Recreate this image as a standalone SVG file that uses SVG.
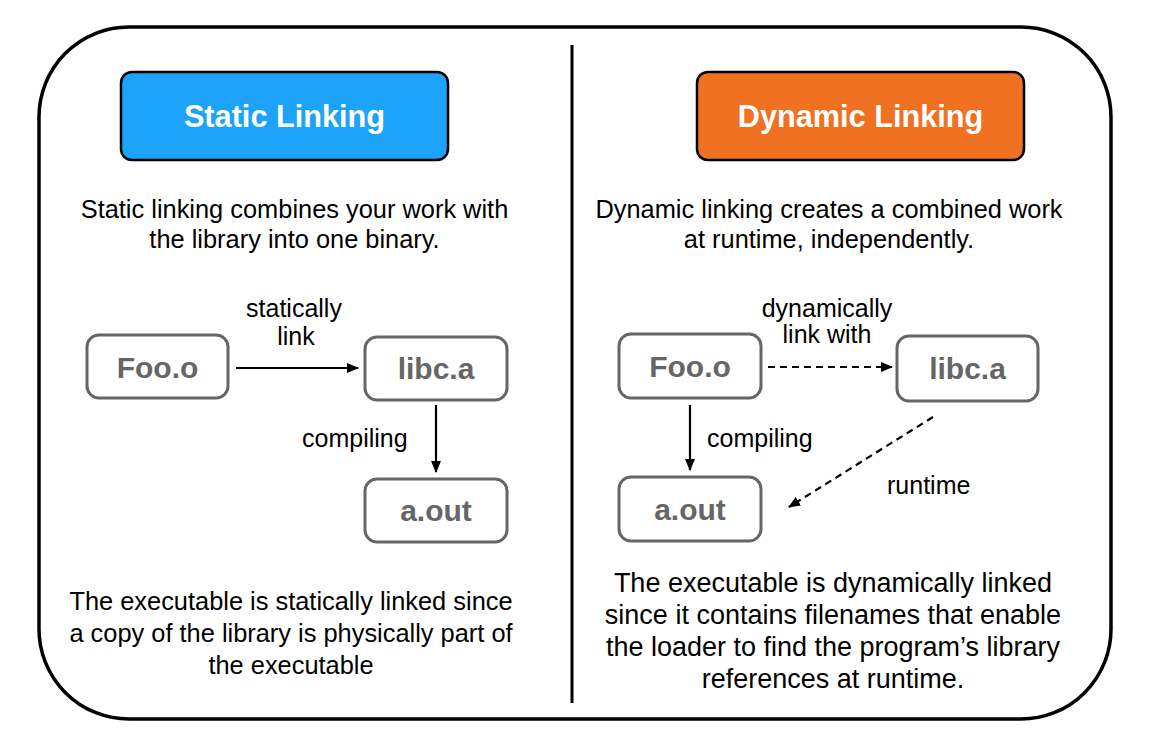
<svg xmlns="http://www.w3.org/2000/svg" width="1152" height="756" viewBox="0 0 1152 756">
<defs>
<style>
.frame{fill:#fff;stroke:#000;stroke-width:3.5}
.title{fill:#fff;font-family:"Liberation Sans",Arial,sans-serif;font-weight:bold;font-size:30.7px;text-anchor:middle}
.hdr{stroke:#000;stroke-width:2.5}
.node rect{fill:#fff;stroke:#666;stroke-width:3}
.node text{fill:#666;font-family:"Liberation Sans",Arial,sans-serif;font-weight:bold;font-size:30px;text-anchor:middle}
.txt{fill:#000;font-family:"Liberation Sans",Arial,sans-serif;font-size:25.4px;text-anchor:middle}
.big{font-size:27px}
.lbl{fill:#000;font-family:"Liberation Sans",Arial,sans-serif;font-size:25px}
.edge{fill:none;stroke:#000;stroke-width:2.2}
.dash{stroke-dasharray:7 5}
</style>
<marker id="arr" viewBox="0 0 12 10" refX="11" refY="5" markerWidth="12" markerHeight="10" markerUnits="userSpaceOnUse" orient="auto">
<path d="M0,0 L12,5 L0,10 Z" fill="#000"/>
</marker>
</defs>
<rect width="1152" height="756" fill="#fff"/>
<rect class="frame" x="39" y="27" width="1072" height="692" rx="90" ry="90"/>
<line x1="572" y1="45" x2="572" y2="703" stroke="#000" stroke-width="3"/>

<g id="static-title">
<rect class="hdr" x="121" y="72" width="327" height="88" rx="11" fill="#1DA3FB"/>
<text class="title" x="284.5" y="127">Static Linking</text>
</g>
<g id="dynamic-title">
<rect class="hdr" x="697" y="72" width="327" height="88" rx="11" fill="#F07122"/>
<text class="title" x="860.5" y="127">Dynamic Linking</text>
</g>

<g id="static-desc">
<text class="txt" x="294.5" y="218">Static linking combines your work with</text>
<text class="txt" x="294.5" y="248">the library into one binary.</text>
</g>
<g id="dynamic-desc">
<text class="txt" x="829" y="218">Dynamic linking creates a combined work</text>
<text class="txt" x="829" y="248">at runtime, independently.</text>
</g>

<g id="s-foo" class="node">
<rect x="87" y="335" width="141" height="63" rx="12"/>
<text x="157.5" y="378">Foo.o</text>
</g>
<g id="s-libc" class="node">
<rect x="365" y="337" width="142" height="63" rx="12"/>
<text x="436" y="379">libc.a</text>
</g>
<g id="s-aout" class="node">
<rect x="365" y="479" width="142" height="63" rx="12"/>
<text x="436" y="521">a.out</text>
</g>

<g id="d-foo" class="node">
<rect x="619" y="334" width="142" height="64" rx="12"/>
<text x="690" y="377">Foo.o</text>
</g>
<g id="d-libc" class="node">
<rect x="897" y="336" width="141" height="65" rx="12"/>
<text x="967.5" y="379">libc.a</text>
</g>
<g id="d-aout" class="node">
<rect x="619" y="477" width="142" height="64" rx="12"/>
<text x="690" y="520">a.out</text>
</g>

<g id="connectors">
<line class="edge" x1="236" y1="368" x2="358" y2="368" marker-end="url(#arr)"/>
<line class="edge" x1="436" y1="405" x2="436" y2="472" marker-end="url(#arr)"/>
<line class="edge dash" x1="768" y1="367" x2="892" y2="367" marker-end="url(#arr)"/>
<line class="edge" x1="690" y1="405" x2="690" y2="470" marker-end="url(#arr)"/>
<line class="edge dash" x1="933" y1="417" x2="789" y2="507" marker-end="url(#arr)"/>
<text class="lbl" x="294" y="317" text-anchor="middle">statically</text>
<text class="lbl" x="296" y="345" text-anchor="middle">link</text>
<text class="lbl" x="302" y="447">compiling</text>
<text class="lbl" x="827" y="317" text-anchor="middle">dynamically</text>
<text class="lbl" x="827" y="343" text-anchor="middle">link with</text>
<text class="lbl" x="707" y="447">compiling</text>
<text class="lbl" x="887" y="494">runtime</text>
</g>

<g id="static-note">
<text class="txt" x="291" y="610">The executable is statically linked since</text>
<text class="txt" x="291" y="642">a copy of the library is physically part of</text>
<text class="txt" x="291" y="674">the executable</text>
</g>
<g id="dynamic-note">
<text class="txt big" x="833" y="592">The executable is dynamically linked</text>
<text class="txt big" x="833" y="624">since it contains filenames that enable</text>
<text class="txt big" x="833" y="656">the loader to find the program’s library</text>
<text class="txt big" x="833" y="688">references at runtime.</text>
</g>
</svg>
